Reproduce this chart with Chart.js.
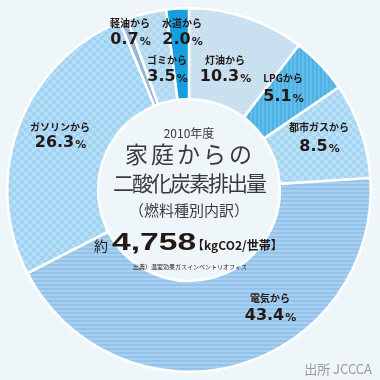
<!DOCTYPE html>
<html>
<head>
<meta charset="utf-8">
<script src="https://cdn.jsdelivr.net/npm/chart.js@4/dist/chart.umd.min.js"></script>
<style>
  html, body { margin: 0; padding: 0; background: #eff6f9; }
  #wrap { width: 380px; height: 380px; position: relative; }
</style>
</head>
<body>
<div id="wrap"><canvas id="co2Chart" width="380" height="380"></canvas></div>
<script>
// ==================== DATA ====================
const categories = ['灯油から', 'LPGから', '都市ガスから', '電気から', 'ガソリンから', '軽油から', 'ゴミから', '水道から'];
const shares = [10.3, 5.1, 8.5, 43.4, 26.3, 0.7, 3.5, 2.0];
const shareLabels = ['10.3', '5.1', '8.5', '43.4', '26.3', '0.7', '3.5', '2.0'];

// ==================== PATTERNS ====================
function makePattern(size, draw) {
    const c = document.createElement('canvas');
    c.width = size; c.height = size;
    const g = c.getContext('2d');
    draw(g, size);
    return g.createPattern(c, 'repeat');
}
const ctxMain = document.getElementById('co2Chart').getContext('2d');

const dotted = makePattern(4, (g, s) => {
    g.fillStyle = '#cde2f1'; g.fillRect(0, 0, s, s);
    g.fillStyle = '#b9d5ec'; g.fillRect(0, 0, 1, 1); g.fillRect(2, 2, 1, 1);
});
const vStripes = makePattern(4, (g, s) => {
    g.fillStyle = '#62bdea'; g.fillRect(0, 0, s, s);
    g.fillStyle = '#4fb2e4'; g.fillRect(0, 0, 2, s);
});
const checker = (a, b) => makePattern(8, (g, s) => {
    g.fillStyle = a; g.fillRect(0, 0, s, s);
    g.fillStyle = b; g.fillRect(0, 0, 4, 4); g.fillRect(4, 4, 4, 4);
});
const hStripes = makePattern(4, (g, s) => {
    g.fillStyle = '#a6cff0'; g.fillRect(0, 0, s, s);
    g.fillStyle = '#93c3ea'; g.fillRect(0, 0, s, 2);
});

const sliceColors = [
    dotted,
    vStripes,
    checker('#b8e0f6', '#a6d6f2'),
    hStripes,
    checker('#b4ddf6', '#a0d3f3'),
    '#99b6d7',
    checker('#bcdff4', '#b0d9f1'),
    '#159fe0'
];

// label placement (text only) relative to chart center
const labelPos = [
    { dx: 36, dy: -113, ny: -17 },
    { dx: 94, dy: -93, ny: -19 },
    { dx: 130, dy: -43, ny: -20 },
    { dx: 81, dy: 126, ny: -18 },
    { dx: -129, dy: -47, ny: -16 },
    { dx: -59, dy: -150, ny: -17 },
    { dx: -22, dy: -113, ny: -17 },
    { dx: -7, dy: -150, ny: -17 }
];

// ==================== TEXT PLUGIN ====================
const textPlugin = {
    id: 'textPlugin',
    afterDraw(chart) {
        const ctx = chart.ctx;
        const arc = chart.getDatasetMeta(0).data[0];
        const cx = arc.x, cy = arc.y;
        ctx.save();
        ctx.textBaseline = 'middle';
        ctx.textAlign = 'center';

        // slice labels
        categories.forEach((name, i) => {
            const p = labelPos[i];
            const x = cx + p.dx, y = cy + p.dy;
            ctx.fillStyle = '#231815';
            ctx.font = 'bold 10px "Noto Sans CJK JP"';
            ctx.fillText(name, x, y + p.ny);

            const num = shareLabels[i];
            ctx.font = 'bold 16px "DejaVu Sans"';
            const wNum = ctx.measureText(num).width;
            ctx.font = 'bold 11px "DejaVu Sans"';
            const wPct = ctx.measureText('%').width;
            const left = x - (wNum + wPct) / 2;
            ctx.textAlign = 'left';
            ctx.font = 'bold 16px "DejaVu Sans"';
            ctx.fillText(num, left, y);
            ctx.font = 'bold 11px "DejaVu Sans"';
            ctx.fillText('%', left + wNum + 1, y + 2);
            ctx.textAlign = 'center';
        });

        // centre block
        ctx.fillStyle = '#3a3a3a';
        ctx.font = '12px "Noto Sans CJK JP"';
        ctx.fillText('2010年度', cx, cy - 57);
        ctx.font = '23px "Noto Sans CJK JP"';
        ctx.letterSpacing = '3px';
        ctx.fillText('家庭からの', cx + 1, cy - 36);
        ctx.letterSpacing = '-2px';
        ctx.font = '21px "Noto Sans CJK JP"';
        ctx.fillText('二酸化炭素排出量', cx, cy - 7);
        ctx.letterSpacing = '0px';
        ctx.font = '15px "Noto Sans CJK JP"';
        ctx.fillText('（燃料種別内訳）', cx, cy + 20);

        ctx.fillStyle = '#231815';
        ctx.textAlign = 'left';
        ctx.font = '14px "Noto Sans CJK JP"';
        ctx.fillText('約', cx - 95, cy + 56);
        ctx.save();
        ctx.translate(cx - 77, cy + 53);
        ctx.scale(1.4, 1);
        ctx.font = 'bold 24px "Liberation Sans"';
        ctx.fillText('4,758', 0, 0);
        ctx.restore();
        ctx.font = 'bold 12px "Noto Sans CJK JP"';
        ctx.fillText('【kgCO2/世帯】', cx + 3, cy + 55);
        ctx.textAlign = 'center';
        ctx.font = '6px "Noto Sans CJK JP"';
        ctx.fillText('出典）温室効果ガスインベントリオフィス', cx + 1, cy + 77);

        // source
        ctx.fillStyle = '#9a9a9a';
        ctx.textAlign = 'right';
        ctx.font = '13px "Noto Sans CJK JP"';
        ctx.fillText('出所 JCCCA', 372, 369);
        ctx.restore();
    }
};

// ==================== CHART ====================
new Chart(ctxMain, {
    type: 'doughnut',
    data: {
        labels: categories,
        datasets: [{
            data: shares,
            backgroundColor: sliceColors,
            borderColor: '#ffffff',
            borderWidth: 2.5,
            hoverOffset: 0
        }]
    },
    options: {
        responsive: false,
        animation: false,
        cutout: '50%',
        layout: { padding: { left: 6, right: 8, top: 7, bottom: 7 } },
        plugins: { legend: { display: false }, tooltip: { enabled: false } }
    },
    plugins: [textPlugin]
});
</script>
</body>
</html>
